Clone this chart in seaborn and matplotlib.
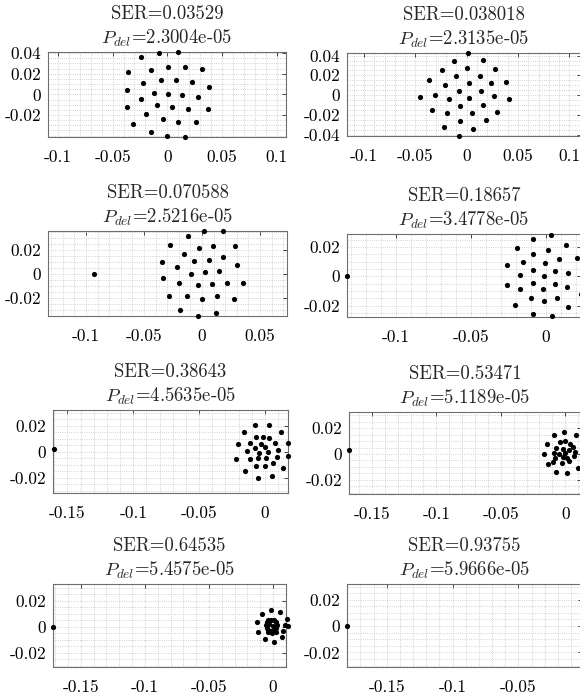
import matplotlib
matplotlib.use('Agg')
import matplotlib.pyplot as plt
from matplotlib.ticker import FormatStrFormatter, AutoMinorLocator
import seaborn as sns
import pandas as pd

sns.set_style('white')
plt.rcParams['font.family'] = 'serif'
plt.rcParams['font.serif'] = ['cmr10']
plt.rcParams['mathtext.fontset'] = 'cm'
plt.rcParams['axes.unicode_minus'] = False

# Заголовки панелей
ser = ['0.03529', '0.038018', '0.070588', '0.18657',
       '0.38643', '0.53471', '0.64535', '0.93755']
p_del = ['2.3004e-05', '2.3135e-05', '2.5216e-05', '3.4778e-05',
         '4.5635e-05', '5.1189e-05', '5.4575e-05', '5.9666e-05']

# Созвездия (принятые символы)
p1_x = [0.010, -0.0076, -0.0241, -0.0363, -0.0149, 0.0009, 0.0165, 0.0317,
        -0.0226, -0.0058, 0.0079, 0.0226, 0.0381, -0.0369, -0.0125, 0.0003,
        0.0137, 0.0277, -0.0241, -0.0091, 0.0043, 0.0189, 0.0369, -0.0369,
        -0.0198, -0.0043, 0.0101, 0.0265, -0.0314, -0.0152, 0.0, 0.0162]
p1_y = [0.0413, 0.0397, 0.0358, 0.0213, 0.0235, 0.0265, 0.0261, 0.0245,
        0.0113, 0.0135, 0.0135, 0.0119, 0.0071, 0.0039, 0.0016, 0.0003,
        -0.0003, -0.0026, -0.0048, -0.0106, -0.0126, -0.0139, -0.0142, -0.0126,
        -0.0194, -0.0242, -0.0265, -0.0271, -0.0287, -0.0365, -0.0403, -0.0410]

p2_x = [0.0016, -0.0123, 0.0156, -0.0240, 0.0, 0.0273, -0.0364, -0.0104,
        0.0127, -0.0208, 0.0019, 0.0234, 0.0383, -0.0075, 0.0136, -0.0455,
        -0.0305, -0.0175, 0.0026, 0.0263, 0.0412, -0.0334, -0.0065, 0.0162,
        0.0299, -0.0192, 0.0052, -0.0065, 0.0185, -0.0221, 0.0065, -0.0071]
p2_y = [0.0426, 0.0348, 0.0358, 0.0250, 0.0270, 0.0260, 0.0149, 0.0189,
        0.0196, 0.0101, 0.0118, 0.0118, 0.0132, 0.0044, 0.0041, -0.0024,
        0.0, -0.0041, -0.0034, -0.0014, -0.0044, -0.0152, -0.0108, -0.0098,
        -0.0169, -0.0179, -0.0179, -0.0260, -0.0257, -0.0324, -0.0345, -0.0415]

p3_x = [-0.0931, 0.0017, 0.0178, -0.0124, -0.0273, -0.0029, 0.0098, 0.0287,
        -0.0158, 0.0184, -0.0345, -0.0066, 0.0057, -0.0216, 0.0305, -0.0095,
        0.0026, 0.0149, -0.0336, -0.0195, -0.0034, 0.0086, 0.0216, 0.0351,
        -0.0287, -0.0129, 0.0003, 0.0132, 0.0273, -0.0187, 0.0121, -0.0034]
p3_y = [0.0, 0.0353, 0.0353, 0.0311, 0.0236, 0.0217, 0.0228, 0.0231,
        0.0164, 0.0136, 0.0097, 0.0103, 0.0117, 0.0053, 0.0069, -0.0003,
        0.0017, 0.0022, -0.0036, -0.0075, -0.0097, -0.0083, -0.0081, -0.0075,
        -0.0189, -0.0186, -0.0214, -0.0186, -0.0211, -0.0303, -0.0325, -0.0350]

p4_x = [-0.1327, 0.0036, -0.0087, 0.0133, -0.0196, 0.0011, -0.0084, 0.0089,
        0.0207, -0.0156, -0.0009, -0.0260, -0.0084, 0.0058, 0.0144, -0.0176,
        -0.0011, -0.0262, -0.0087, 0.0058, 0.0142, -0.0173, -0.0020, -0.0098,
        0.0071, 0.0235, -0.0204, -0.0011, 0.0149, -0.0089, 0.0038]
p4_y = [0.0, 0.0282, 0.0257, 0.0216, 0.0195, 0.0177, 0.0152, 0.0118,
        0.0123, 0.0095, 0.0093, 0.0075, 0.0043, 0.0039, 0.0025, 0.0007,
        0.0002, -0.0059, -0.0048, -0.0050, -0.0070, -0.0086, -0.0086, -0.0145,
        -0.0145, -0.0120, -0.0195, -0.0170, -0.0211, -0.0259, -0.0270]

p5_x = [-0.1602, -0.0073, 0.0033, -0.0157, 0.0119, -0.0068, -0.0015, 0.0033,
        -0.0208, -0.0114, -0.0030, 0.0078, 0.0172, -0.0073, 0.0, -0.0134,
        -0.0043, 0.0025, 0.0096, -0.0218, -0.0114, -0.0056, 0.0005, 0.0089,
        0.0172, 0.0058, -0.0066, 0.0, 0.0134, -0.0152, 0.0051, -0.0053]
p5_y = [0.0021, 0.0203, 0.0203, 0.0151, 0.0149, 0.0110, 0.0115, 0.0105,
        0.0056, 0.0067, 0.0056, 0.0069, 0.0064, 0.0028, 0.0033, 0.0005,
        -0.0013, 0.0, 0.0015, -0.0056, -0.0054, -0.0049, -0.0046, -0.0044,
        -0.0036, -0.0085, -0.0110, -0.0110, -0.0123, -0.0149, -0.0185, -0.0200]

p6_x = [-0.1677, -0.0085, -0.0010, 0.0083, -0.0144, -0.0041, -0.0002, 0.0036,
        -0.0072, -0.0020, 0.0062, -0.0165, -0.0085, -0.0047, -0.0005, 0.0031,
        0.0075, -0.0080, -0.0020, 0.0016, 0.0067, -0.0093, -0.0023, 0.0031,
        -0.0132, 0.0096, -0.0074, 0.0016]
p6_y = [0.0031, 0.0145, 0.0168, 0.0145, 0.0075, 0.0091, 0.0101, 0.0075,
        0.0044, 0.0036, 0.0052, -0.0002, 0.0005, -0.0002, 0.0005, 0.0031,
        0.0013, -0.0033, -0.0021, -0.0033, -0.0015, -0.0064, -0.0067, -0.0057,
        -0.0080, -0.0106, -0.0142, -0.0145]

p7_x = [-0.1718, -0.0088, -0.0018, 0.0055, -0.0127, 0.0107, 0.0119, -0.0115,
        -0.0062, 0.0010, 0.0068, 0.0027, 0.0021, 0.0006, -0.0015, -0.0036,
        -0.0051, -0.0057, -0.0051, -0.0036, -0.0015, 0.0006, 0.0021, -0.0041,
        -0.0010, 0.0021, 0.0076, 0.0094, -0.0030, 0.0000]
p7_y = [0.0, 0.0098, 0.0128, 0.0111, 0.0034, 0.0057, 0.0005, -0.0043,
        -0.0097, -0.0115, -0.0077, 0.0012, 0.0033, 0.0048, 0.0054, 0.0048,
        0.0033, 0.0012, -0.0009, -0.0024, -0.0030, -0.0024, -0.0009, -0.0041,
        -0.0051, -0.0043, -0.0033, 0.0013, 0.0018, 0.0008]

p8_x = [-0.1800]
p8_y = [0.0]

xs = [p1_x, p2_x, p3_x, p4_x, p5_x, p6_x, p7_x, p8_x]
ys = [p1_y, p2_y, p3_y, p4_y, p5_y, p6_y, p7_y, p8_y]

# Подписи осей
x_ticks = [[-0.1, -0.05, 0, 0.05, 0.1], [-0.1, -0.05, 0, 0.05, 0.1],
           [-0.1, -0.05, 0, 0.05], [-0.1, -0.05, 0],
           [-0.15, -0.1, -0.05, 0], [-0.15, -0.1, -0.05, 0],
           [-0.15, -0.1, -0.05, 0], [-0.15, -0.1, -0.05]]
y_ticks = [[-0.02, 0, 0.02, 0.04], [-0.04, -0.02, 0, 0.02, 0.04],
           [-0.02, 0, 0.02], [-0.02, 0, 0.02], [-0.02, 0, 0.02],
           [-0.02, 0, 0.02], [-0.02, 0, 0.02], [-0.02, 0, 0.02]]

# Пределы осей (как после axis equal в MATLAB)
x_lims = [(-0.1091, 0.1086), (-0.1166, 0.1113), (-0.1328, 0.0733), (-0.1327, 0.0233),
          (-0.1610, 0.0175), (-0.1677, 0.0122), (-0.1717, 0.0101), (-0.1802, -0.0017)]
y_lims = [(-0.0413, 0.0410), (-0.0415, 0.0426), (-0.0353, 0.0356), (-0.0278, 0.0289),
          (-0.0318, 0.0321), (-0.0310, 0.0325), (-0.0310, 0.0328), (-0.0311, 0.0319)]

# Положение осей в пикселях: left, right, top, bottom
W, H = 580, 694
boxes = [(48, 286, 52, 137), (347, 581, 53, 136),
         (48, 287, 231, 316), (347, 581, 234, 317),
         (53, 288, 410, 493), (349, 581, 412, 494),
         (53, 286, 584, 667), (347, 582, 584, 667)]

fig = plt.figure(figsize=(W / 100, H / 100), dpi=100)

for i in range(8):
    l, r, t, b = boxes[i]
    ax = fig.add_axes([l / W, 1 - b / H, (r - l) / W, (b - t) / H])
    df = pd.DataFrame({'re': xs[i], 'im': ys[i]})
    sns.scatterplot(data=df, x='re', y='im', ax=ax, color='black',
                    s=14, linewidth=0, clip_on=False, zorder=5)
    ax.set_xlim(x_lims[i])
    ax.set_ylim(y_lims[i])
    ax.set_xticks(x_ticks[i])
    ax.set_yticks(y_ticks[i])
    ax.xaxis.set_major_formatter(FormatStrFormatter('%g'))
    ax.yaxis.set_major_formatter(FormatStrFormatter('%g'))
    ax.xaxis.set_minor_locator(AutoMinorLocator())
    ax.yaxis.set_minor_locator(AutoMinorLocator())
    ax.set_xlabel('')
    ax.set_ylabel('')
    ax.grid(True, which='both', linestyle=':', linewidth=0.6, color='#c4c4c4')
    ax.set_axisbelow(True)
    ax.tick_params(which='major', direction='in', length=3, width=0.6,
                   top=True, right=True, labelsize=12.5, colors='#262626',
                   labelcolor='black')
    ax.tick_params(axis='x', which='major', pad=9)
    ax.tick_params(axis='y', which='major', pad=5)
    ax.tick_params(which='minor', length=0)
    for sp in ax.spines.values():
        sp.set_color('#6e6e6e')
        sp.set_linewidth(0.8)
    ax.set_title(f'SER={ser[i]}\n$P_{{del}}$={p_del[i]}', fontsize=13.5, pad=6,
                 linespacing=1.3)

fig.savefig('out.png', dpi=100)
plt.close(fig)
